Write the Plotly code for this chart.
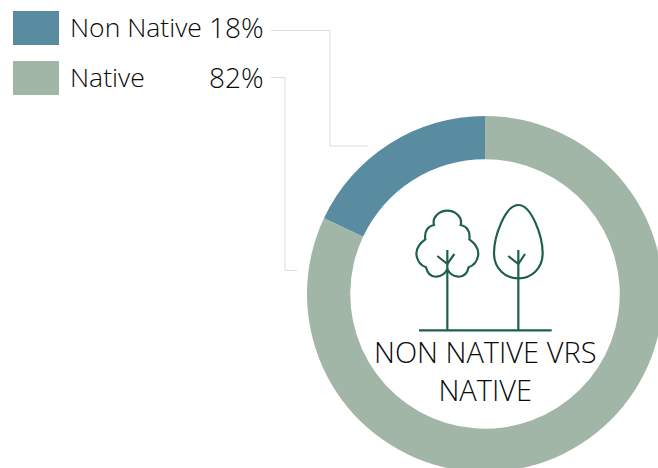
import plotly.graph_objects as go

categories = ["Non Native", "Native"]
values = [18, 82]
value_labels = ["18%", "82%"]
colors = ["#5a8ca1", "#a1b6a6"]
center_lines = ["NON NATIVE VRS", "NATIVE"]

W, H = 700, 500
FONT = "Open Sans"
TXT = "#0a0a0a"
GREEN = "#1d6146"
GREY = "#dcdcdc"


def px(x):
    return x / W


def py(y):
    return 1 - y / H


def zoom_pt(x, y):
    return f"{px(360 + x / 3):.5f},{py(190 + y / 3):.5f}"


def zpath(*cmds):
    out = []
    for c in cmds:
        if isinstance(c, str):
            out.append(c)
        else:
            out.append(zoom_pt(*c))
    return " ".join(out)


shapes = []
annotations = []


def line_path(points, color, width):
    d = "M " + " L ".join(f"{px(a):.5f},{py(b):.5f}" for a, b in points)
    shapes.append(dict(type="path", xref="paper", yref="paper", path=d,
                       line=dict(color=color, width=width), layer="above"))


def zshape(d, width=2.2):
    shapes.append(dict(type="path", xref="paper", yref="paper", path=d,
                       line=dict(color=GREEN, width=width), layer="above"))


def text(x, y, s, size, anchor="left"):
    annotations.append(dict(xref="paper", yref="paper", x=px(x), y=py(y), text=s,
                            showarrow=False, xanchor=anchor, yanchor="middle",
                            font=dict(family=FONT, size=size, color=TXT, weight=300),
                            borderpad=0, borderwidth=0))


# Legend
for i, top in enumerate([11, 61]):
    shapes.append(dict(type="rect", xref="paper", yref="paper", x0=px(13), x1=px(59),
                       y0=py(top), y1=py(top + 34), fillcolor=colors[i],
                       line=dict(width=0), layer="above"))
    text(70, top + 16, categories[i], 26.5)
    text(264, top + 16, value_labels[i], 28, "right")

# Leader lines
line_path([(271, 30.5), (330, 30.5), (330, 146), (368, 146)], GREY, 1)
line_path([(271, 77.5), (285, 77.5), (285, 270.5), (297, 270.5)], GREY, 1)

# Broad-leaf tree crown
zshape(zpath("M", (262, 238),
             "C", (250, 262), (208, 275), (198, 232),
             "C", (172, 222), (150, 180), (196, 148),
             "C", (192, 122), (205, 108), (222, 105),
             "C", (215, 80), (240, 62), (262, 62),
             "C", (284, 62), (309, 80), (302, 105),
             "C", (319, 108), (332, 122), (328, 148),
             "C", (374, 180), (352, 222), (326, 232),
             "C", (316, 275), (274, 262), (262, 238)))
zshape(zpath("M", (262, 180), "L", (262, 421)))
zshape(zpath("M", (232, 198), "L", (262, 222), "L", (283, 192)))

# Oval tree crown
zshape(zpath("M", (475, 45),
             "C", (515, 45), (548, 140), (548, 190),
             "C", (548, 235), (515, 265), (475, 265),
             "C", (435, 265), (402, 235), (402, 190),
             "C", (402, 140), (435, 45), (475, 45)))
zshape(zpath("M", (475, 180), "L", (475, 421)))
zshape(zpath("M", (445, 198), "L", (475, 222), "L", (495, 192)))

# Ground
zshape(zpath("M", (177, 421), "L", (575, 421)))

# Centre label, one wrapped text
text(485, 370.5, "<br>".join(center_lines), 29, "center")

fig = go.Figure(go.Pie(
    labels=categories,
    values=values,
    sort=False,
    direction="clockwise",
    rotation=-64.8,
    hole=0.757,
    marker=dict(colors=colors, line=dict(width=0)),
    textinfo="none",
    showlegend=False,
    domain=dict(x=[px(307), px(663)], y=[py(472), py(116)]),
))

fig.update_layout(
    width=W, height=H,
    margin=dict(l=0, r=0, t=0, b=0),
    autosize=False,
    paper_bgcolor="white",
    shapes=shapes,
    annotations=annotations,
    showlegend=False,
)

fig.write_html(
    "out.html",
    config={"displayModeBar": False},
    post_script="document.documentElement.style.overflow='hidden';"
                "document.body.style.overflow='hidden';document.body.style.margin='0';",
)
